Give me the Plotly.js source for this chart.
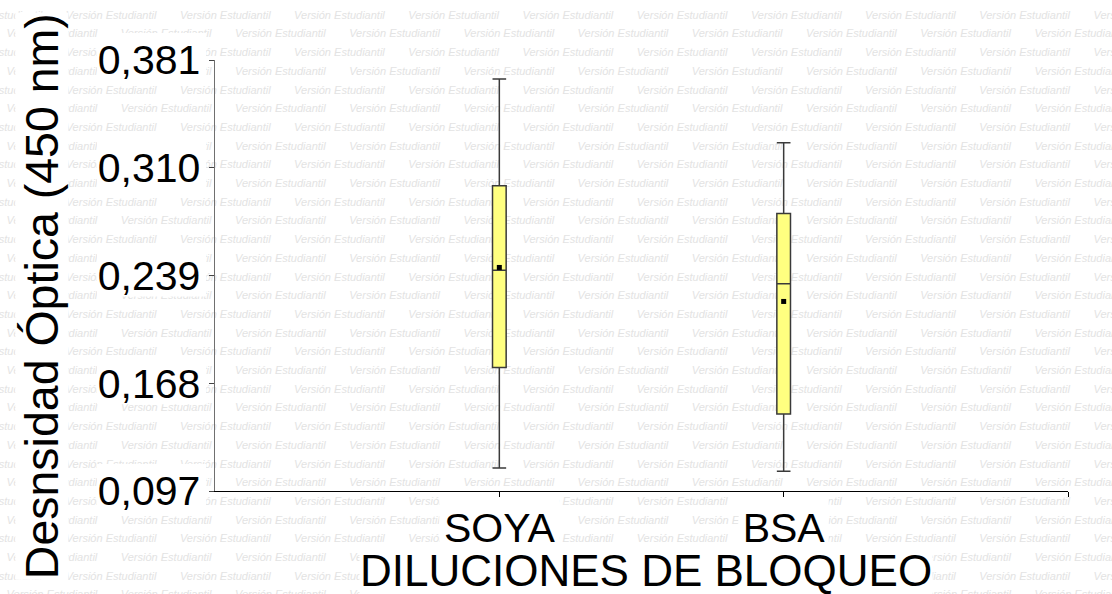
<!DOCTYPE html>
<html>
<head>
<meta charset="utf-8">
<script src="https://cdn.plot.ly/plotly-3.0.1.min.js"></script>
<style>
  html, body { margin: 0; padding: 0; background: #ffffff; }
  #wrap { position: relative; width: 1112px; height: 594px; overflow: hidden; }
  #wm { position: absolute; left: 0; top: 0; width: 1112px; height: 594px; overflow: hidden; z-index: 0; }
  #wm span { position: absolute; white-space: nowrap; font-family: "Liberation Sans", Arial, sans-serif;
             font-style: italic; font-size: 11px; line-height: 13px; color: #e3e3e3; }
  #chart { position: absolute; left: 0; top: 0; width: 1112px; height: 594px; z-index: 1; }
</style>
</head>
<body>
<div id="wrap">
  <div id="wm"></div>
  <div id="chart"></div>
</div>
<script>
// Blocking dilutions compared
const categories = ['SOYA', 'BSA'];

// Box statistics for optical density at 450 nm
const minValues    = [0.1122, 0.1100];
const q1Values     = [0.1784, 0.1478];
const medianValues = [0.2425, 0.2335];
const q3Values     = [0.2981, 0.2799];
const maxValues    = [0.3685, 0.3265];
const meanValues   = [0.2443, 0.2219];

// Value axis ticks
const yTickValues = [0.097, 0.168, 0.239, 0.310, 0.381];
const yTickLabels = ['0,097', '0,168', '0,239', '0,310', '0,381'];

const xTitle = 'DILUCIONES DE BLOQUEO';
const yTitle = 'Desnsidad Óptica (450 nm)';
const watermarkText = 'Versión Estudiantil';

// Background "student edition" pattern
(function () {
  const wm = document.getElementById('wm');
  const rowStep = 18.7, colStep = 114.2;
  for (let r = 0; r < 33; r++) {
    const cy = 15.7 + r * rowStep;
    const startX = (r % 2 === 0) ? -48.5 : -107.6;
    for (let x = startX; x < 1112; x += colStep) {
      const s = document.createElement('span');
      s.textContent = watermarkText;
      s.style.left = x.toFixed(1) + 'px';
      s.style.top = (cy - 7).toFixed(1) + 'px';
      wm.appendChild(s);
    }
  }
})();

const FONT = '"Liberation Sans", Arial, sans-serif';
const yMin = yTickValues[0], yMax = yTickValues[yTickValues.length - 1];
const xMin = -1, xMax = 2;

const boxTrace = {
  type: 'box',
  x: categories,
  q1: q1Values,
  median: medianValues,
  q3: q3Values,
  lowerfence: minValues,
  upperfence: maxValues,
  boxpoints: false,
  width: 0.048,
  whiskerwidth: 1,
  fillcolor: '#ffff80',
  line: { color: '#3a3a3a', width: 1.5 },
  hoverinfo: 'skip'
};

const meanTrace = {
  type: 'scatter',
  mode: 'markers',
  x: categories,
  y: meanValues,
  marker: { symbol: 'square', size: 5, color: '#000000' },
  hoverinfo: 'skip'
};

// White backing behind the tick labels so the pattern does not run through them
const shapes = [];
yTickValues.forEach(v => {
  shapes.push({
    type: 'rect', layer: 'below',
    xref: 'paper', yref: 'paper',
    xsizemode: 'pixel', ysizemode: 'pixel',
    xanchor: 0, yanchor: (v - yMin) / (yMax - yMin),
    x0: -118, x1: -9, y0: -21, y1: 27,
    fillcolor: '#ffffff', line: { width: 0 }
  });
});
categories.forEach((c, i) => {
  shapes.push({
    type: 'rect', layer: 'below',
    xref: 'paper', yref: 'paper',
    xsizemode: 'pixel', ysizemode: 'pixel',
    xanchor: (i - xMin) / (xMax - xMin), yanchor: 0,
    x0: -c.length * 15, x1: c.length * 15, y0: -52, y1: -6,
    fillcolor: '#ffffff', line: { width: 0 }
  });
});

const layout = {
  width: 1112,
  height: 594,
  margin: { l: 215, r: 44, t: 60, b: 103, pad: 0 },
  paper_bgcolor: 'rgba(0,0,0,0)',
  plot_bgcolor: 'rgba(0,0,0,0)',
  showlegend: false,
  hovermode: false,
  font: { family: FONT, color: '#000000' },
  xaxis: {
    type: 'category',
    range: [xMin, xMax],
    tickmode: 'array',
    tickvals: [0, 1, 2],
    ticktext: categories.concat(['']),
    ticks: 'outside', ticklen: 5, tickcolor: '#000000', tickwidth: 1,
    showline: true, linecolor: '#000000', linewidth: 1,
    showgrid: false, zeroline: false,
    tickfont: { family: FONT, size: 41, color: '#000000' },
    ticklabelstandoff: -4
  },
  yaxis: {
    range: [yMin, yMax],
    tickmode: 'array',
    tickvals: yTickValues,
    ticktext: yTickLabels,
    ticks: 'outside', ticklen: 5, tickcolor: '#444444', tickwidth: 1,
    showline: true, linecolor: '#707070', linewidth: 1.5,
    showgrid: false, zeroline: false,
    tickfont: { family: FONT, size: 41, color: '#000000' },
    ticklabelstandoff: 0
  },
  shapes: shapes,
  annotations: [
    {
      text: xTitle, xref: 'paper', yref: 'paper',
      x: 0.5047, y: -0.184, xanchor: 'center', yanchor: 'middle',
      showarrow: false, bgcolor: '#ffffff', borderpad: 0,
      font: { family: FONT, size: 44, color: '#000000' }
    },
    {
      text: yTitle, xref: 'paper', yref: 'paper',
      x: -0.2028, y: 0.452, xanchor: 'center', yanchor: 'middle',
      textangle: -90,
      showarrow: false, bgcolor: '#ffffff', borderpad: 0,
      font: { family: FONT, size: 46.5, color: '#000000' }
    }
  ]
};

Plotly.newPlot('chart', [boxTrace, meanTrace], layout, { staticPlot: true, displayModeBar: false });
</script>
</body>
</html>
